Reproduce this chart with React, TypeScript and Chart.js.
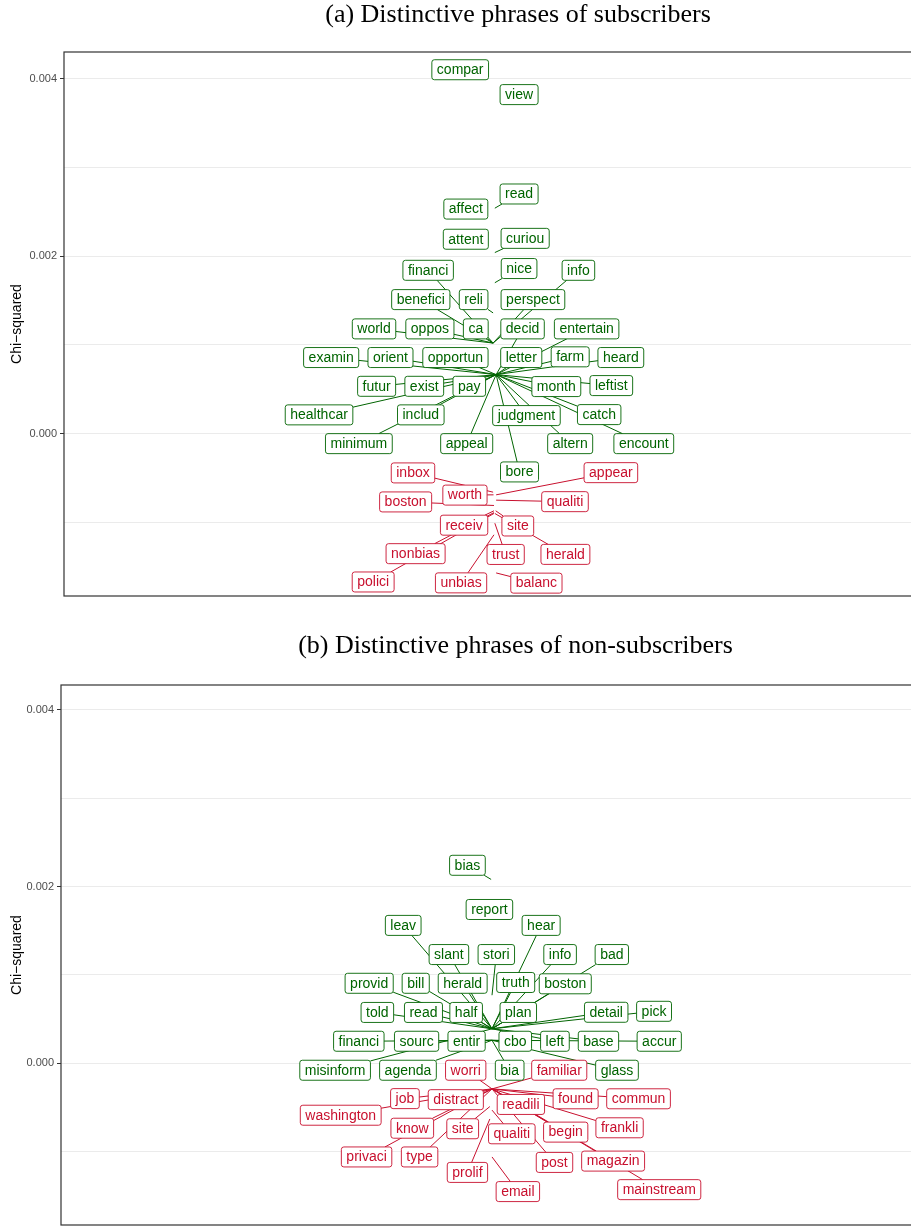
import React, { useEffect, useRef } from 'react';
import { Chart, registerables } from 'chart.js';

Chart.register(...registerables);

const SANS = "'Liberation Sans', Arial, Helvetica, sans-serif";
const SERIF = "'Liberation Serif', 'Times New Roman', serif";
const GREEN = '#006400';
const RED = '#C8102E';

// y axis: gridlines every 0.001, labels on the major breaks only
const yTickValues = [-0.001, 0, 0.001, 0.002, 0.003, 0.004];
const yTickLabels = ['', '0.000', '', '0.002', '', '0.004'];

// ---------- Panel (a): distinctive phrases of subscribers ----------
const aTitle = '(a) Distinctive phrases of subscribers';
const aWords = ['compar', 'view', 'read', 'affect', 'attent', 'curiou', 'financi', 'nice', 'info', 'benefici', 'reli', 'perspect', 'world', 'oppos', 'ca', 'decid', 'entertain', 'examin', 'orient', 'opportun', 'letter', 'farm', 'heard', 'futur', 'exist', 'pay', 'month', 'leftist', 'healthcar', 'includ', 'judgment', 'catch', 'minimum', 'appeal', 'altern', 'encount', 'bore',
  'inbox', 'appear', 'worth', 'boston', 'qualiti', 'receiv', 'site', 'nonbias', 'trust', 'herald', 'polici', 'unbias', 'balanc'];
const aSide = ['g', 'g', 'g', 'g', 'g', 'g', 'g', 'g', 'g', 'g', 'g', 'g', 'g', 'g', 'g', 'g', 'g', 'g', 'g', 'g', 'g', 'g', 'g', 'g', 'g', 'g', 'g', 'g', 'g', 'g', 'g', 'g', 'g', 'g', 'g', 'g', 'g',
  'r', 'r', 'r', 'r', 'r', 'r', 'r', 'r', 'r', 'r', 'r', 'r', 'r'];
const aLabelX = [-8.5, 5.1, 5.1, -7.2, -7.2, 6.5, -15.9, 5.1, 18.8, -17.6, -5.4, 8.3, -28.4, -15.5, -4.9, 5.9, 20.7, -38.3, -24.6, -9.6, 5.6, 16.9, 28.6, -27.8, -16.8, -6.4, 13.7, 26.4, -41.1, -17.6, 6.8, 23.6, -31.9, -7.0, 16.9, 33.9, 5.2,
  -19.4, 26.3, -7.4, -21.1, 15.7, -7.6, 4.8, -18.8, 2.0, 15.8, -28.6, -8.3, 9.1];
const aLabelY = [0.00410, 0.00382, 0.00270, 0.00253, 0.00219, 0.00220, 0.00184, 0.00186, 0.00184, 0.00151, 0.00151, 0.00151, 0.00118, 0.00118, 0.00118, 0.00118, 0.00118, 0.000857, 0.000857, 0.000857, 0.000857, 0.000865, 0.000857, 0.000533, 0.000533, 0.000533, 0.000530, 0.000541, 0.000211, 0.000211, 0.000203, 0.000214, -0.000113, -0.000113, -0.000113, -0.000113, -0.000432,
  -0.000443, -0.000440, -0.000693, -0.000770, -0.000767, -0.001032, -0.001041, -0.001353, -0.001362, -0.001361, -0.001672, -0.001682, -0.001685];
const aPointX = [-4, 1.5, -0.5, -4, -4, -0.5, -0.9, -0.5, -0.9, -0.9, -0.9, -0.9, -0.9, -0.9, -0.9, -0.2, -0.2, -0.2, -0.2, -0.2, -0.2, -0.2, -0.2, -0.2, -0.2, -0.2, -0.2, -0.2, -0.2, -0.2, -0.2, -0.2, -0.2, -0.2, -0.2, -0.2, -0.2,
  -0.9, -0.2, -0.8, -0.7, -0.2, -0.7, -0.3, -0.7, -0.5, -0.5, -0.7, -0.7, -0.2];
const aPointY = [0.00410, 0.00382, 0.00254, 0.00252, 0.00219, 0.00204, 0.00102, 0.00170, 0.00102, 0.00102, 0.00136, 0.00102, 0.00102, 0.00102, 0.00102, 0.000665, 0.000665, 0.000665, 0.000665, 0.000665, 0.000665, 0.000665, 0.000665, 0.000665, 0.000665, 0.000665, 0.000665, 0.000665, 0.000665, 0.000665, 0.000665, 0.000665, 0.000665, 0.000665, 0.000665, 0.000665, 0.000665,
  -0.00066, -0.00069, -0.00069, -0.00081, -0.00075, -0.00087, -0.00087, -0.00089, -0.00101, -0.00090, -0.00090, -0.00114, -0.00157];

// ---------- Panel (b): distinctive phrases of non-subscribers ----------
const bTitle = '(b) Distinctive phrases of non-subscribers';
const bWords = ['bias', 'report', 'leav', 'hear', 'slant', 'stori', 'info', 'bad', 'provid', 'bill', 'herald', 'truth', 'boston', 'told', 'read', 'half', 'plan', 'detail', 'pick', 'financi', 'sourc', 'entir', 'cbo', 'left', 'base', 'accur', 'misinform', 'agenda', 'bia', 'glass',
  'worri', 'familiar', 'job', 'distract', 'washington', 'readili', 'found', 'commun', 'know', 'site', 'qualiti', 'begin', 'frankli', 'privaci', 'type', 'post', 'magazin', 'prolif', 'email', 'mainstream'];
const bSide = ['g', 'g', 'g', 'g', 'g', 'g', 'g', 'g', 'g', 'g', 'g', 'g', 'g', 'g', 'g', 'g', 'g', 'g', 'g', 'g', 'g', 'g', 'g', 'g', 'g', 'g', 'g', 'g', 'g', 'g',
  'r', 'r', 'r', 'r', 'r', 'r', 'r', 'r', 'r', 'r', 'r', 'r', 'r', 'r', 'r', 'r', 'r', 'r', 'r', 'r'];
const bLabelX = [-5.7, -0.6, -20.6, 11.4, -10.0, 1.0, 15.8, 27.8, -28.5, -17.7, -6.8, 5.5, 17.0, -26.6, -15.9, -6.0, 6.1, 26.5, 37.6, -30.9, -17.5, -5.9, 5.4, 14.6, 24.7, 38.8, -36.4, -19.5, 4.1, 29.0,
  -6.1, 15.6, -20.2, -8.4, -35.1, 6.7, 19.4, 34.0, -18.5, -6.8, 4.6, 17.1, 29.6, -29.1, -16.8, 14.5, 28.1, -5.7, 6.0, 38.8];
const bLabelY = [0.00224, 0.00174, 0.00156, 0.00156, 0.00123, 0.00123, 0.00123, 0.00123, 0.000905, 0.000905, 0.000905, 0.000914, 0.000899, 0.000575, 0.000575, 0.000575, 0.000575, 0.000577, 0.000588, 0.000249, 0.000249, 0.000249, 0.000249, 0.000249, 0.000249, 0.000249, -0.000079, -0.000079, -0.000079, -0.000079,
  -0.000079, -0.000079, -0.000400, -0.000412, -0.000588, -0.000466, -0.000402, -0.000402, -0.000735, -0.000741, -0.000798, -0.000779, -0.000730, -0.001060, -0.001060, -0.001122, -0.001107, -0.001235, -0.001452, -0.001430];
const bPointX = [-0.2, 0, 0, 0, 0, 0, 0, 0, 0, 0, 0, 0, 0, 0, 0, 0, 0, 0, 0, 0, 0, 0, 0, 0, 0, 0, 0, 0, 0, 0,
  0, 0, 0, 0, 0, 0, 0, 0, 0, -0.5, 0, 0, 0, 0, 0, 0, 0, -0.5, 0, 0];
const bPointY = [0.00208, 0.00174, 0.00039, 0.00039, 0.00039, 0.00077, 0.00039, 0.00039, 0.00039, 0.00039, 0.00039, 0.00039, 0.00039, 0.00039, 0.00039, 0.00039, 0.00039, 0.00039, 0.00039, 0.00026, 0.00026, 0.00026, 0.00026, 0.00039, 0.00039, 0.00026, 0.00039, 0.00026, 0.00026, 0.00026,
  -0.00029, -0.00029, -0.00029, -0.00029, -0.00029, -0.00029, -0.00029, -0.00029, -0.00029, -0.00049, -0.00053, -0.00029, -0.00029, -0.00029, -0.00029, -0.00029, -0.00029, -0.00063, -0.00106, -0.00029];

type Panel = {
  title: string;
  words: string[];
  side: string[];
  labelX: number[];
  labelY: number[];
  pointX: number[];
  pointY: number[];
  yMin: number;
  yMax: number;
  width: number;
  height: number;
  axisWidth: number;
  rightWidth: number;
  padBottom: number;
  titleTop: number;
  titleBottom: number;
};

const panelA: Panel = {
  title: aTitle, words: aWords, side: aSide, labelX: aLabelX, labelY: aLabelY, pointX: aPointX, pointY: aPointY,
  yMin: -0.00183, yMax: 0.0043, width: 1036, height: 615, axisWidth: 64, rightWidth: 106, padBottom: 19, titleTop: 0, titleBottom: 20.8,
};
const panelB: Panel = {
  title: bTitle, words: bWords, side: bSide, labelX: bLabelX, labelY: bLabelY, pointX: bPointX, pointY: bPointY,
  yMin: -0.00183, yMax: 0.00428, width: 1031, height: 611, axisWidth: 61, rightWidth: 108, padBottom: 1, titleTop: 16, titleBottom: 22.8,
};

function labelPlugin(p: Panel) {
  return {
    id: 'repelLabels',
    afterDatasetsDraw(chart: any) {
      const { ctx } = chart;
      const xs = chart.scales.x;
      const ys = chart.scales.y;
      ctx.save();
      ctx.font = `14px ${SANS}`;
      const items = p.words.map((w, i) => {
        const tw = ctx.measureText(w).width;
        return {
          w,
          cx: xs.getPixelForValue(p.labelX[i]),
          cy: ys.getPixelForValue(p.labelY[i]),
          px: xs.getPixelForValue(p.pointX[i]),
          py: ys.getPixelForValue(p.pointY[i]),
          bw: tw + 10,
          bh: 20,
          color: p.side[i] === 'g' ? GREEN : RED,
        };
      });
      // segments from the data point to the label box
      ctx.lineWidth = 1;
      items.forEach((it) => {
        const l = it.cx - it.bw / 2, r = it.cx + it.bw / 2, t = it.cy - it.bh / 2, b = it.cy + it.bh / 2;
        if (it.px >= l && it.px <= r && it.py >= t && it.py <= b) return;
        const dx = it.cx - it.px, dy = it.cy - it.py;
        const sx = dx !== 0 ? (dx > 0 ? (l - it.px) / dx : (r - it.px) / dx) : -Infinity;
        const sy = dy !== 0 ? (dy > 0 ? (t - it.py) / dy : (b - it.py) / dy) : -Infinity;
        const s = Math.max(sx, sy);
        const ex = it.px + dx * s, ey = it.py + dy * s;
        if (Math.hypot(ex - it.px, ey - it.py) < 2) return;
        ctx.strokeStyle = it.color;
        ctx.beginPath();
        ctx.moveTo(it.px, it.py);
        ctx.lineTo(ex, ey);
        ctx.stroke();
      });
      // boxes and text
      ctx.textAlign = 'center';
      ctx.textBaseline = 'middle';
      items.forEach((it) => {
        const l = it.cx - it.bw / 2, t = it.cy - it.bh / 2;
        ctx.beginPath();
        ctx.roundRect(l, t, it.bw, it.bh, 2.5);
        ctx.fillStyle = '#ffffff';
        ctx.fill();
        ctx.lineWidth = 0.9;
        ctx.strokeStyle = it.color;
        ctx.stroke();
        ctx.fillStyle = it.color;
        ctx.fillText(it.w, it.cx, it.cy + 0.5);
      });
      ctx.restore();
    },
  };
}

const borderPlugin = {
  id: 'panelBorder',
  afterDraw(chart: any) {
    const { ctx, chartArea } = chart;
    ctx.save();
    ctx.strokeStyle = '#333333';
    ctx.lineWidth = 1.2;
    ctx.strokeRect(chartArea.left, chartArea.top, chartArea.right - chartArea.left, chartArea.bottom - chartArea.top);
    ctx.restore();
  },
};

function buildChart(canvas: HTMLCanvasElement, p: Panel) {
  return new Chart(canvas, {
    type: 'scatter',
    data: {
      datasets: [
        {
          data: p.pointX.map((x, i) => ({ x, y: p.pointY[i] })),
          pointRadius: 0,
          pointHoverRadius: 0,
          showLine: false,
          yAxisID: 'y',
        },
      ],
    },
    options: {
      animation: false,
      responsive: false,
      events: [],
      layout: { padding: { left: 0, right: 0, top: 0, bottom: p.padBottom } },
      plugins: {
        legend: { display: false },
        tooltip: { enabled: false },
        title: {
          display: true,
          text: p.title,
          color: '#000000',
          font: { family: SERIF, size: 26, weight: 'normal' },
          padding: { top: p.titleTop, bottom: p.titleBottom },
        },
      },
      scales: {
        x: { type: 'linear', display: false, min: -100, max: 100 },
        y: {
          type: 'linear',
          position: 'left',
          min: p.yMin,
          max: p.yMax,
          afterBuildTicks: (scale: any) => {
            scale.ticks = yTickValues.map((v) => ({ value: v }));
          },
          afterFit: (scale: any) => {
            scale.width = p.axisWidth;
            scale.paddingTop = 0;
            scale.paddingBottom = 0;
          },
          border: { display: false },
          grid: {
            color: '#ebebeb',
            lineWidth: 1,
            drawTicks: true,
            tickLength: 4,
            tickColor: (c: any) => (yTickLabels[c.index] ? '#333333' : 'rgba(0,0,0,0)'),
          },
          ticks: {
            autoSkip: false,
            padding: 3,
            color: '#4d4d4d',
            font: { family: SANS, size: 11 },
            callback: (_v: any, i: number) => yTickLabels[i],
          },
          title: {
            display: true,
            text: 'Chi\u2212squared',
            color: '#000000',
            font: { family: SANS, size: 14 },
            padding: { top: 9, bottom: 0 },
          },
        },
        yRight: {
          type: 'linear',
          position: 'right',
          display: true,
          min: p.yMin,
          max: p.yMax,
          afterFit: (scale: any) => {
            scale.width = p.rightWidth;
            scale.paddingTop = 0;
            scale.paddingBottom = 0;
          },
          border: { display: false },
          grid: { display: false, drawTicks: false },
          ticks: { display: false },
        },
      },
    } as any,
    plugins: [labelPlugin(p), borderPlugin],
  });
}

function PanelChart({ panel, top }: { panel: Panel; top: number }) {
  const ref = useRef<HTMLCanvasElement | null>(null);
  useEffect(() => {
    if (!ref.current) return;
    const chart = buildChart(ref.current, panel);
    return () => chart.destroy();
  }, [panel]);
  return (
    <div style={{ position: 'absolute', left: 0, top, width: panel.width, height: panel.height }}>
      <canvas ref={ref} width={panel.width} height={panel.height} style={{ display: 'block' }} />
    </div>
  );
}

export default function App() {
  return (
    <div style={{ position: 'absolute', left: 0, top: 0, width: 911, height: 1226, overflow: 'hidden', background: '#ffffff' }}>
      <PanelChart panel={panelA} top={0} />
      <PanelChart panel={panelB} top={615} />
    </div>
  );
}
